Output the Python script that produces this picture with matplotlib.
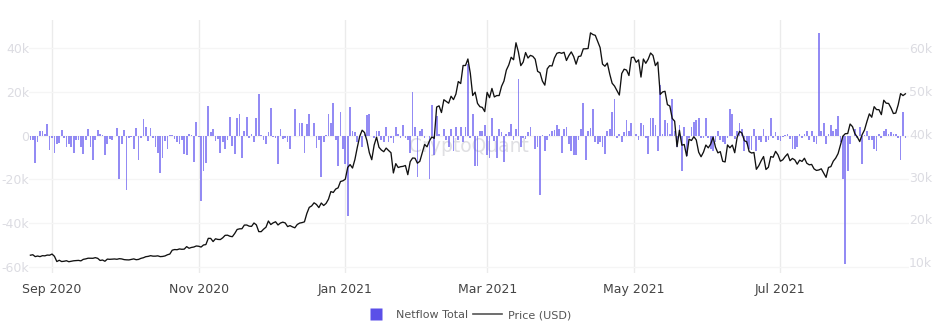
import numpy as np
import pandas as pd
import matplotlib
matplotlib.use('Agg')
import matplotlib.pyplot as plt
import matplotlib.dates as mdates
from matplotlib.ticker import FuncFormatter, FixedLocator
from matplotlib.lines import Line2D

# ---------------- data ----------------
start_date = '2020-08-23'

# daily exchange netflow, thousands
netflow_k = [
    # Aug 23 - Oct 6 2020
    -2, -2, -12.5, -3, 2, 2, 1, 5.5, -6.5, -1, -8, -4, -3.5, 2.5, -1, -5, -4, -5, -8, -2,
    -2, -5, -8.5, -2, 3, -5, -11, -2, 2.5, 1, 0.5, -9, -4, -1.5, -2, 0, 3.5, -20, -4, 2.5,
    -25, -1, -0.5, -6, 3.5,
    # Oct 7 - Nov 21
    -11, -1, 7.5, 4, -2.5, 3.5, -1, -5, -8, -17, -10, -2.5, -6, 0.5, 0.3, -1.5, -3, -4, -2, -8.5,
    -9, 1, 0.5, -12, 6.5, -0.5, -30, -16, -12.5, 13.5, 1.5, 3, -2.5, -1.5, -8, -3, -6, -2, 8.5, -4.5,
    -8.5, 8, 10, -10, 2, 8.5,
    # Nov 22 - Jan 6
    -1, 1, -3, 8, 19, 0.5, -2, -4, 1.5, 12.5, -0.5, -1, -13, 3, -1.5, -1, -3, -6, 0, 12,
    0, 6, 6, -8, 5.5, 10, 0, 6, -5.5, -2, -19, -3, 0.5, 10, 6, 15, -2, -14, 11, -6,
    -13, -37, 13, 2, 1.5, -3,
    # Jan 7 - Feb 20
    0, -5, 1, 9.5, 10, 0, -1, 2, 2, -2, -3, 4, -3, -1, -3.5, 4, 1, -1, 5, -1,
    -2, -8, 20, 4, -19, 2, 3, -1, 0, -20, 14, -9, 9, 1, 0, 3, -2, -5, 3, -7,
    4, -2, 4, -3, 4,
    # Feb 21 - Apr 7
    33, -1, 10, -14, -14, 2, 2, 5, -9, -10, 8, -2.5, -10, 3, 1.5, -12, 1, 1.5, 5.5, -2,
    3, 26, -5, -1, -1.5, 1.5, 4, 0, -6, -5, -27, 0.5, -7, -2, 1, 2, 2.5, 5, 3, -8,
    3, 4, -4, -7, -9, -9,
    # Apr 8 - May 22
    -2, 3, 15, -11, 2, 3.5, 12, -3, -4, -3, -5, -8.5, 2, 3, 11, 17, -1, 1, -3, 1.5,
    7, 2, 6, 0, 1, -2, 6, 5, -1, -8.5, 8, 8, 5, -7, 23, 1, 7, 6, 1, 17,
    2, -5, 5, -16, 4,
    # May 23 - Jul 7
    -9.5, -1, 4, 6.5, 7, 8, -1, -1, 8, -1, -6, -7, -3, 2, -2, -3, -4, -1, 12, 10,
    -1.5, 2, 6, 3, -7, -4, -6, -6.5, 3, -7, -2, -3, 3, -3, -2, 8, -1, 1.5, -2, -2.5,
    -0.5, 0.5, 1, -1.5, -6, -6,
    # Jul 8 - Aug 22 2021
    -5, 1, -1, 1, 2, -2, 2, -3, -4, 47, 2, 6, -4, 1, 5, 2, 3, 9, -3, -20,
    -59, -16, -4, 0, 3, -1, 4, -13, 0.5, 2, -2, -2, -6, -7, 1, -1, 2, 3, 1, 1.5,
    1, 1, -1, -11, 11, -1,
]

# daily BTC close, USD
price_aug20 = [11650, 11760, 11320, 11460, 11320, 11540, 11500, 11680, 11650]
price_sep20 = [11920, 11390, 10170, 10470, 10170, 10240, 10360, 10130, 10230, 10350,
               10390, 10440, 10330, 10680, 10790, 10950, 10940, 10930, 11080, 10920,
               10420, 10530, 10240, 10740, 10690, 10730, 10770, 10700, 10840, 10780]
price_oct20 = [10620, 10570, 10550, 10670, 10790, 10600, 10670, 10920, 11060, 11300,
               11380, 11540, 11430, 11430, 11500, 11320, 11360, 11480, 11750, 11920,
               12820, 12970, 12930, 13110, 13030, 13070, 13650, 13270, 13460, 13560, 13800]
price_nov20 = [13740, 13550, 14030, 14130, 15580, 15570, 14830, 15480, 15330, 15300,
               15700, 16280, 16320, 16070, 15960, 16720, 17650, 17800, 17820, 18680,
               18690, 18420, 18370, 19160, 18720, 17150, 17140, 17720, 18180, 19630]
price_dec20 = [18800, 19200, 19450, 18700, 19150, 19360, 19170, 18320, 18550, 18260,
               18040, 18800, 19140, 19250, 19430, 21380, 22800, 23140, 23870, 23480,
               22750, 23820, 23240, 23730, 24710, 26490, 26280, 27080, 27360, 28840, 29000]
price_jan21 = [29370, 32130, 32780, 31970, 33990, 36820, 39370, 40800, 40250, 38350,
               35550, 33920, 37320, 39190, 36830, 36180, 35790, 36630, 36070, 35550,
               30830, 33000, 32100, 32290, 32370, 32570, 30430, 33470, 34320, 34270, 33110]
price_feb21 = [33540, 35510, 37470, 36930, 38300, 39240, 38900, 46200, 46480, 44920,
               47910, 47500, 47100, 48720, 47940, 49200, 52150, 51680, 55890, 55890,
               57410, 54090, 48890, 49670, 47050, 46280, 46110, 45140]
price_mar21 = [49630, 48380, 50540, 48560, 48880, 48880, 51030, 52260, 54820, 56010,
               57810, 57230, 61190, 59060, 55860, 56690, 58910, 57630, 58250, 58030,
               57350, 54530, 54200, 52250, 51310, 55110, 55850, 55780, 57630, 58730, 58920]
price_apr21 = [58730, 58970, 57060, 58200, 59060, 57980, 56200, 57990, 58100, 59770,
               59790, 59850, 63500, 63110, 62920, 61470, 60060, 56220, 55720, 56470,
               53910, 51760, 51090, 50050, 49000, 54020, 55030, 54820, 53550, 57750]
price_may21 = [57830, 56630, 57210, 53190, 57400, 56400, 57360, 58800, 58230, 55860,
               56680, 49150, 49720, 49880, 46760, 46450, 43540, 42910, 36960, 40780,
               37300, 37470, 34770, 38700, 38400, 39290, 38530, 35680, 34610, 35680, 37340]
price_jun21 = [36690, 37570, 39190, 36830, 35520, 35800, 33550, 33400, 37350, 36700,
               37330, 35550, 39100, 40520, 40140, 38350, 38090, 35820, 35480, 35600,
               31680, 32510, 33680, 34660, 31640, 32160, 34650, 34500, 35870, 35040]
price_jul21 = [33570, 33900, 34660, 35290, 33690, 34220, 33860, 32880, 33820, 33520,
               34260, 33090, 32730, 32820, 31780, 31420, 31530, 31800, 30820, 29810,
               32110, 32310, 33580, 34290, 35350, 37340, 39410, 39990, 40020, 42240, 41630]
price_aug21 = [39970, 39200, 38150, 39750, 40870, 42830, 44610, 43830, 46290, 45600,
               45590, 44430, 47790, 47100, 47050, 46000, 44690, 44800, 46720, 49340,
               48870, 49290]

price = (price_aug20 + price_sep20 + price_oct20 + price_nov20 + price_dec20 + price_jan21
         + price_feb21 + price_mar21 + price_apr21 + price_may21 + price_jun21
         + price_jul21 + price_aug21)

left_ticks = [-60000, -40000, -20000, 0, 20000, 40000]
right_ticks = [10000, 20000, 30000, 40000, 50000, 60000]

# ---------------- plot ----------------
plt.rcParams['font.family'] = ['DejaVu Sans']

dates = pd.date_range(start_date, periods=len(price), freq='D')
netflow = np.array(netflow_k) * 1000

fig = plt.figure(figsize=(9.38, 3.30), dpi=100)
ax = fig.add_axes([29 / 938, 1 - 273 / 330, 880 / 938, 253 / 330])
ax2 = ax.twinx()

bar_col = '#6a5ff0'
ax.bar(dates, netflow, width=0.72, color=bar_col, alpha=0.72, linewidth=0)
ax2.plot(dates, price, color='#111111', lw=0.95)

ax.set_xlim(dates[0] - pd.Timedelta(hours=14), dates[-1] + pd.Timedelta(hours=36))
ax.set_ylim(-62900, 53000)
ax2.set_ylim(7500, 66500)


def kfmt(v, pos):
    if v == 0:
        return '0'
    return '%dk' % round(v / 1000)


ax.yaxis.set_major_locator(FixedLocator(left_ticks))
ax.yaxis.set_major_formatter(FuncFormatter(kfmt))
ax2.yaxis.set_major_locator(FixedLocator(right_ticks))
ax2.yaxis.set_major_formatter(FuncFormatter(kfmt))

ax.xaxis.set_major_locator(mdates.MonthLocator(bymonth=[1, 3, 5, 7, 9, 11]))
ax.xaxis.set_major_formatter(mdates.DateFormatter('%b %Y'))

for a in (ax, ax2):
    for s in a.spines.values():
        s.set_visible(False)
    a.tick_params(length=0)

ax.tick_params(axis='x', labelsize=9, colors='#444444', pad=7)
ax.tick_params(axis='y', labelsize=9, colors='#dcdce2', pad=0)
ax2.tick_params(axis='y', labelsize=9, colors='#dcdce2', pad=0)

ax.grid(axis='x', color='#ebebeb', lw=1)
ax.grid(axis='y', color='#f5f5f5', lw=1)
ax.set_axisbelow(True)

# watermark
ax.text(0.5, 0.5, 'CryptoQuant', transform=ax.transAxes, ha='center', va='center',
        fontsize=13.5, color='#b8b8c0', alpha=0.45, zorder=0)

handles = [Line2D([0], [0], marker='s', linestyle='none', markersize=8,
                  markerfacecolor='#5b4fe8', markeredgecolor='none'),
           Line2D([0], [0], color='#555555', lw=1.2)]
fig.legend(handles, ['Netflow Total', 'Price (USD)'], loc='center',
           bbox_to_anchor=(0.497, 1 - 315 / 330), ncol=2, frameon=False,
           fontsize=8, labelcolor='#555555', handlelength=2.6,
           columnspacing=0.5, handletextpad=0.5)

fig.savefig('out.png', dpi=100)
